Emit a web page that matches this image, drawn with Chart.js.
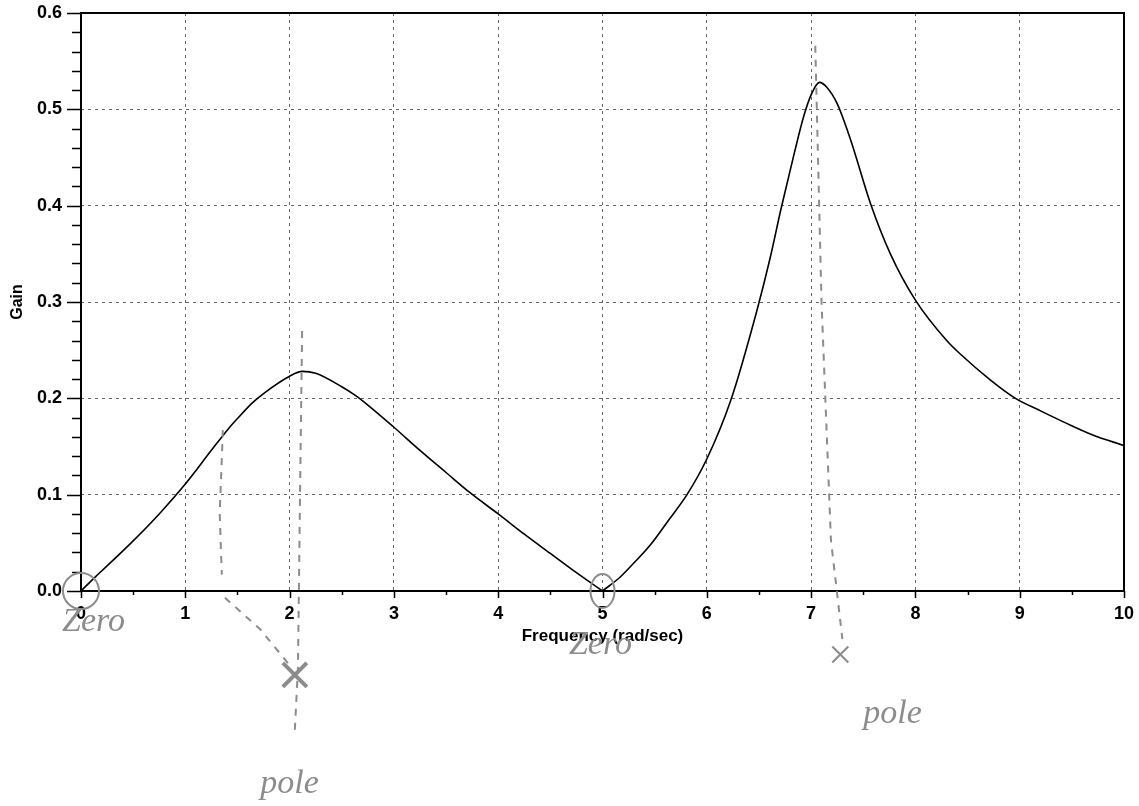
<!DOCTYPE html>
<html>
<head>
<meta charset="utf-8">
<script src="https://cdn.jsdelivr.net/npm/chart.js@4.4.1/dist/chart.umd.min.js"></script>
<style>
  body { margin: 0; background: #fff; }
  canvas { display: block; }
</style>
</head>
<body>
<canvas id="myChart" width="1139" height="806"></canvas>
<script>
// Frequency (rad/sec)
const freq = [0, 0.14, 0.25, 0.5, 0.75, 1.0, 1.25, 1.41, 1.5, 1.64, 1.75, 2.0, 2.12, 2.25, 2.5, 2.63, 2.75,
    3.0, 3.25, 3.5, 3.73, 4.0, 4.25, 4.5, 4.75, 5.0, 5.17, 5.3, 5.46, 5.63, 5.81, 6.0, 6.23, 6.48, 6.61, 6.71,
    6.84, 6.93, 7.0, 7.08, 7.15, 7.25, 7.38, 7.57, 7.76, 8.0, 8.3, 8.43, 8.72, 8.96, 9.2, 9.45, 9.7, 10];
// Gain at each frequency
const gain = [0, 0.015, 0.026, 0.052, 0.080, 0.111, 0.146, 0.168, 0.179, 0.195, 0.205, 0.223, 0.228, 0.226, 0.212, 0.203, 0.193,
    0.170, 0.146, 0.123, 0.102, 0.080, 0.059, 0.039, 0.019, 0.0, 0.0145, 0.029, 0.048, 0.073, 0.100, 0.137, 0.198, 0.291, 0.347, 0.396,
    0.455, 0.493, 0.515, 0.528, 0.523, 0.506, 0.468, 0.402, 0.350, 0.302, 0.260, 0.246, 0.219, 0.200, 0.187, 0.174, 0.162, 0.151];
// the zero at 5 rad/sec makes a sharp notch, so the curve is drawn in two pieces
const notchFreq = 5;

// handwritten notes on the print (data coordinates)
const noteTexts = ['Zero', 'Zero', 'pole', 'pole'];
const noteX = [0.12, 4.98, 2.0, 7.78];
const noteY = [-0.032, -0.056, -0.2, -0.128];
const crossX = [2.05, 7.28];
const crossY = [-0.087, -0.066];
const circleX = [0, 5];
const handLines = [
    [[2.12, 0.27], [2.1, 0.1], [2.08, -0.08], [2.05, -0.145]],
    [[7.04, 0.566], [7.1, 0.3], [7.19, 0.053], [7.3, -0.05]],
    [[1.36, 0.167], [1.33, 0.08], [1.35, 0.017]],
    [[1.38, -0.007], [1.72, -0.04], [2.0, -0.077]]
];

const points = freq.map((f, i) => ({ x: f, y: gain[i] }));
const cut = freq.indexOf(notchFreq);
const leftPart = points.slice(0, cut + 1);
const rightPart = points.slice(cut);

// frame, tick marks and the pencil notes
const framePlugin = {
    id: 'frame',
    afterDraw(chart) {
        const ctx = chart.ctx;
        const a = chart.chartArea;
        const xs = chart.scales.x, ys = chart.scales.y;
        ctx.save();
        ctx.strokeStyle = '#000';
        ctx.lineWidth = 2;
        ctx.strokeRect(a.left, a.top, a.right - a.left, a.bottom - a.top);

        ctx.lineWidth = 1.5;
        ctx.beginPath();
        for (let i = 0; i <= 30; i++) {
            const py = Math.round(ys.getPixelForValue(i * 0.02)) + 0.5;
            const len = i % 5 === 0 ? 14 : 9;
            ctx.moveTo(a.left - len, py);
            ctx.lineTo(a.left, py);
        }
        for (let i = 0; i <= 20; i++) {
            const px = Math.round(xs.getPixelForValue(i * 0.5)) + 0.5;
            const len = i % 2 === 0 ? 7 : 4;
            ctx.moveTo(px, a.bottom);
            ctx.lineTo(px, a.bottom + len);
        }
        ctx.stroke();

        // pencil notes
        ctx.strokeStyle = '#8c8c8c';
        ctx.fillStyle = '#8c8c8c';
        ctx.lineWidth = 2;
        ctx.setLineDash([7, 7]);
        handLines.forEach(line => {
            ctx.beginPath();
            line.forEach((p, j) => {
                const px = xs.getPixelForValue(p[0]), py = ys.getPixelForValue(p[1]);
                if (j === 0) ctx.moveTo(px, py); else ctx.lineTo(px, py);
            });
            ctx.stroke();
        });
        ctx.setLineDash([]);
        circleX.forEach((cx, i) => {
            ctx.beginPath();
            ctx.ellipse(xs.getPixelForValue(cx), ys.getPixelForValue(0), i === 0 ? 18 : 12, i === 0 ? 18 : 17, 0, 0, Math.PI * 2);
            ctx.stroke();
        });
        crossX.forEach((cx, i) => {
            const px = xs.getPixelForValue(cx), py = ys.getPixelForValue(crossY[i]);
            const s = i === 0 ? 12 : 8;
            ctx.lineWidth = i === 0 ? 4 : 2;
            ctx.beginPath();
            ctx.moveTo(px - s, py - s); ctx.lineTo(px + s, py + s);
            ctx.moveTo(px + s, py - s); ctx.lineTo(px - s, py + s);
            ctx.stroke();
        });
        ctx.font = 'italic 34px "Liberation Serif"';
        ctx.textAlign = 'center';
        ctx.textBaseline = 'middle';
        noteTexts.forEach((t, i) => {
            ctx.fillText(t, xs.getPixelForValue(noteX[i]), ys.getPixelForValue(noteY[i]));
        });
        ctx.restore();
    }
};

const ctx = document.getElementById('myChart').getContext('2d');

const lineStyle = {
    borderColor: '#000',
    borderWidth: 1.6,
    pointRadius: 0,
    cubicInterpolationMode: 'monotone',
    fill: false
};

const config = {
    type: 'line',
    data: {
        datasets: [
            Object.assign({ label: 'Gain', data: leftPart }, lineStyle),
            Object.assign({ label: 'Gain ', data: rightPart }, lineStyle)
        ]
    },
    options: {
        responsive: false,
        animation: false,
        layout: { padding: { top: 13, right: 15, left: 0, bottom: 0 } },
        plugins: {
            legend: { display: false },
            tooltip: { enabled: false }
        },
        scales: {
            x: {
                type: 'linear',
                min: 0,
                max: 10,
                afterFit: s => {
                    s.height = 215;
                    s.paddingLeft = 0;
                    s.paddingRight = 0;
                },
                ticks: {
                    stepSize: 1,
                    padding: 12,
                    color: '#000',
                    font: { family: 'Liberation Sans', size: 18, weight: 'bold' }
                },
                grid: { color: '#666', lineWidth: 1, drawTicks: false },
                border: { display: false, dash: [3, 4] },
                title: {
                    display: true,
                    text: 'Frequency (rad/sec)',
                    color: '#000',
                    font: { family: 'Liberation Sans', size: 17, weight: 'bold' },
                    padding: { top: 0, bottom: 159 }
                }
            },
            y: {
                min: 0,
                max: 0.6,
                afterFit: s => {
                    s.width = 81;
                    s.paddingTop = 0;
                    s.paddingBottom = 0;
                },
                ticks: {
                    stepSize: 0.1,
                    padding: 19,
                    color: '#000',
                    font: { family: 'Liberation Sans', size: 18, weight: 'bold' },
                    callback: v => v.toFixed(1)
                },
                grid: { color: '#666', lineWidth: 1, drawTicks: false },
                border: { display: false, dash: [3, 4] },
                title: {
                    display: true,
                    text: 'Gain',
                    color: '#000',
                    font: { family: 'Liberation Sans', size: 16, weight: 'bold' },
                    padding: { top: 8, bottom: 0 }
                }
            }
        }
    },
    plugins: [framePlugin]
};

const myChart = new Chart(ctx, config);
</script>
</body>
</html>
